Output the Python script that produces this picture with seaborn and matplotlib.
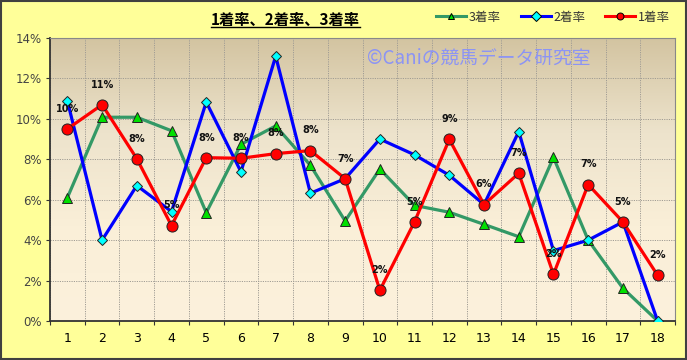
import numpy as np
import pandas as pd
import matplotlib
matplotlib.use("Agg")
import matplotlib.pyplot as plt
import seaborn as sns
from matplotlib.colors import LinearSegmentedColormap
from matplotlib.lines import Line2D
from matplotlib.patches import Rectangle
from matplotlib.ticker import FixedLocator, NullFormatter, FuncFormatter

# ---- data ----
umaban = list(range(1, 19))
win_rate = [9.5, 10.7, 8.03, 4.72, 8.08, 8.05, 8.28, 8.43, 7.04, 1.52, 4.91, 8.99, 5.76, 7.31, 2.31, 6.75, 4.9, 2.26]   # 1着率
place2_rate = [10.89, 4.0, 6.7, 5.41, 10.83, 7.38, 13.1, 6.32, 7.04, 9.0, 8.22, 7.21, 5.76, 9.37, 3.48, 4.0, 4.9, 0.0]  # 2着率
place3_rate = [6.1, 10.08, 10.08, 9.41, 5.36, 8.74, 9.65, 7.7, 4.95, 7.52, 5.72, 5.38, 4.78, 4.17, 8.09, 4.0, 1.62, 0.0]  # 3着率
series_names = ["3着率", "2着率", "1着率"]
title = "1着率、2着率、3着率"
watermark = "©Caniの競馬データ研究室"
yticks = [0, 2, 4, 6, 8, 10, 12, 14]

plt.rcParams['font.family'] = ['Noto Sans CJK JP', 'DejaVu Sans']

df = pd.DataFrame({
    "馬番": umaban * 3,
    "率": place3_rate + place2_rate + win_rate,
    "系列": [series_names[0]] * 18 + [series_names[1]] * 18 + [series_names[2]] * 18,
})

line_colors = {"3着率": "#339966", "2着率": "#0000FF", "1着率": "#FF0000"}
face_colors = {"3着率": "#00E000", "2着率": "#00FFFF", "1着率": "#FF0000"}
markers = {"3着率": "^", "2着率": "D", "1着率": "o"}
msizes = {"3着率": 7.5, "2着率": 5.5, "1着率": 8}

fig = plt.figure(figsize=(6.87, 3.60), dpi=100, facecolor="#FFFF99")
ax = fig.add_axes([50/687, 39/360, 625/687, 283/360])

# gradient background
cmap = LinearSegmentedColormap.from_list("bg", ["#D3C4A1", "#EDE3CC", "#FAEFD8", "#FCF1DC"])
ax.imshow(np.linspace(0, 1, 256).reshape(-1, 1), cmap=cmap, aspect="auto",
          extent=[0, 1, 0, 1], transform=ax.transAxes, zorder=0)

for name in series_names:
    sub = df[df["系列"] == name]
    sns.lineplot(data=sub, x="馬番", y="率", color=line_colors[name], marker=markers[name],
                 markersize=msizes[name], markeredgecolor="#222222", markeredgewidth=0.7,
                 markerfacecolor=face_colors[name], linewidth=2.3, ax=ax, zorder=3, legend=False)

for line, name in zip(ax.lines, series_names):
    line.set_markerfacecolor(face_colors[name])

# labels above 1着率 points
for x, v in zip(umaban, win_rate):
    ax.annotate(f"{int(v + 0.5)}%", (x, v), xytext=(0, 14.5), textcoords="offset points",
                ha="center", va="center", fontsize=7, fontweight="bold", color="#111111",
                family=["DejaVu Sans"], zorder=5)

ax.set_xlim(0.5, 18.5)
ax.set_ylim(0, 14)
ax.xaxis.set_major_locator(FixedLocator(np.arange(0.5, 19, 1)))
ax.xaxis.set_major_formatter(NullFormatter())
ax.xaxis.set_minor_locator(FixedLocator(umaban))
ax.xaxis.set_minor_formatter(FuncFormatter(lambda v, p: f"{int(round(v))}"))
ax.tick_params(axis="x", which="minor", length=0, pad=8, labelsize=9, labelcolor="black")
ax.tick_params(axis="x", which="major", length=3, direction="out", color="#333333")
ax.set_yticks(yticks)
ax.set_yticklabels([f"{t}%" for t in yticks])
ax.tick_params(axis="y", length=3, direction="out", labelsize=8.5, labelcolor="#444444", color="#333333", pad=3)
for lab in ax.get_xticklabels(minor=True) + ax.get_yticklabels():
    lab.set_family(["DejaVu Sans"])
ax.set_xlabel("")
ax.set_ylabel("")
ax.set_axisbelow(True)
ax.grid(True, which="major", color="#A09C94", linestyle=(0, (1.2, 1.2)), linewidth=0.7)
ax.spines["left"].set_color("#333333")
ax.spines["bottom"].set_color("#333333")
ax.spines["left"].set_linewidth(1.3)
ax.spines["bottom"].set_linewidth(1.3)
ax.spines["top"].set_color("#888888")
ax.spines["right"].set_color("#888888")

ax.text(0.686, 0.929, watermark, transform=ax.transAxes, ha="center", va="center",
        fontsize=13.5, color="#8C94F4", zorder=1)

# title with underline
t = fig.text(285/687, 1 - 20/360, title, ha="center", va="center", fontsize=11,
             fontweight="bold", color="black")
fig.canvas.draw()
bb = t.get_window_extent().transformed(fig.transFigure.inverted())
fig.add_artist(Line2D([bb.x0, bb.x1], [bb.y0 + 0.004, bb.y0 + 0.004], color="black",
                      linewidth=1.0, transform=fig.transFigure))

# legend
handles = [Line2D([], [], color=line_colors[n], marker=markers[n], markerfacecolor=face_colors[n],
                  markeredgecolor="black", markeredgewidth=0.7, markersize=5, linewidth=2.2)
           for n in series_names]
fig.legend(handles, series_names, loc="center", bbox_to_anchor=(553/687, 1 - 17/360), ncol=3,
           frameon=False, fontsize=9, handlelength=2.4, handletextpad=0.2, columnspacing=1.6,
           labelcolor="#333333")

fig.add_artist(Rectangle((0.001, 0.002), 0.997, 0.995, transform=fig.transFigure, fill=False,
                         edgecolor="#404040", linewidth=1.5))

fig.savefig("out.png", dpi=100, facecolor=fig.get_facecolor())
